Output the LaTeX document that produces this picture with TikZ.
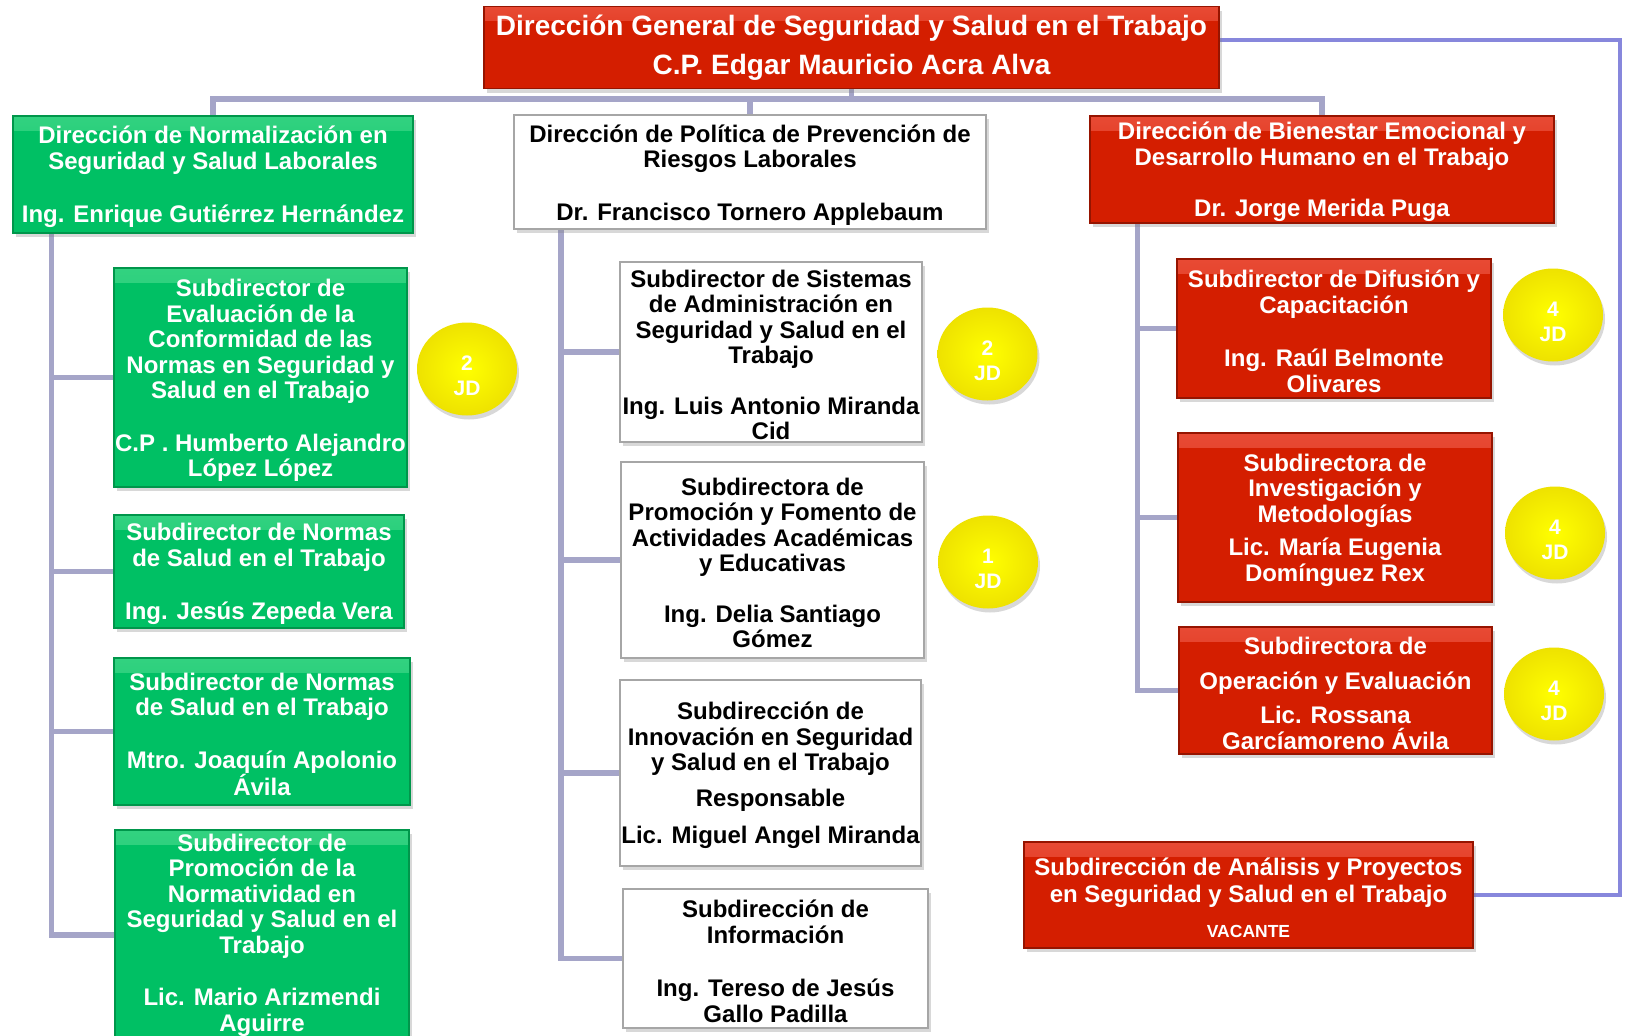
\documentclass[tikz,border=0pt]{standalone}
\usepackage{fontspec}
\setmainfont{Liberation Sans}
\usetikzlibrary{shapes.geometric,shadows,calc}
\definecolor{gfill}{RGB}{0,192,100}
\definecolor{gtop}{RGB}{50,210,128}
\definecolor{gedge}{RGB}{0,150,75}
\definecolor{rfill}{RGB}{212,30,0}
\definecolor{rtop}{RGB}{232,74,52}
\definecolor{redge}{RGB}{150,20,0}
\definecolor{conn}{RGB}{165,165,200}
\definecolor{conntwo}{RGB}{135,135,220}
\definecolor{ylw}{RGB}{255,255,0}
\definecolor{ylwedge}{RGB}{238,226,0}
\newcommand\orgbody{\fontsize{24}{25.5}\selectfont\bfseries}
\newcommand\orgtitle{\fontsize{28}{39}\selectfont\bfseries}
\newcommand\orgbadge{\fontsize{21}{25}\selectfont\bfseries}
\pgfdeclarelayer{back}
\pgfdeclarelayer{bg}
\pgfsetlayers{back,bg,main}
\begin{document}
\begin{tikzpicture}[x=1pt,y=-1pt,
  box/.style={rectangle, inner sep=0pt, align=center, font=\orgbody,
    drop shadow={shadow xshift=3pt, shadow yshift=-4pt, opacity=0.3}},
  gbox/.style={box, draw=gedge, line width=1.5pt, fill=gfill, text=white,
    path picture={\shade[top color=gtop, bottom color=gfill] (path picture bounding box.north west) rectangle ([yshift=-14pt]path picture bounding box.north east);}},
  rbox/.style={box, draw=redge, line width=1.5pt, fill=rfill, text=white,
    path picture={\shade[top color=rtop, bottom color=rfill] (path picture bounding box.north west) rectangle ([yshift=-14pt]path picture bounding box.north east);}},
  wbox/.style={box, draw=black!35, line width=2pt, fill=white, text=black},
  badge/.style={ellipse, minimum width=100pt, minimum height=93pt, inner sep=0pt,
    inner color=ylw, outer color=ylwedge,
    drop shadow={shadow xshift=2pt, shadow yshift=-4pt, opacity=0.3}},
  badgetext/.style={align=center, text=white, font=\orgbadge, inner sep=0pt},
  tree/.style={draw=conn, line width=5.5pt, line cap=rect},
  link/.style={draw=conntwo, line width=4.5pt, line cap=rect},
]
\useasboundingbox (0,0) rectangle (1628,1036);
\begin{pgfonlayer}{back}
\fill[white] (0,0) rectangle (1628,1036);
\end{pgfonlayer}

% top
\node[rbox, minimum width=735pt, minimum height=82pt, font=\orgtitle] (top) at (851.5,47.5)
  {Dirección General de Seguridad y Salud en el Trabajo\\C.P. Edgar Mauricio Acra Alva};

% directors
\node[gbox, minimum width=400pt, minimum height=117pt] (dl) at (213,174.5)
  {\rule{0pt}{23pt}Dirección de Normalización en\\Seguridad y Salud Laborales\\[28pt]Ing. Enrique Gutiérrez Hernández};
\node[wbox, minimum width=472pt, minimum height=114pt] (dm) at (750,172)
  {\rule{0pt}{23pt}Dirección de Política de Prevención de\\Riesgos Laborales\\[27pt]Dr. Francisco Tornero Applebaum};
\node[rbox, minimum width=464pt, minimum height=107pt] (dr) at (1322,169.5)
  {\rule{0pt}{23pt}Dirección de Bienestar Emocional y\\Desarrollo Humano en el Trabajo\\[26pt]Dr. Jorge Merida Puga};

% left column
\node[gbox, minimum width=293pt, minimum height=219pt] (l1) at (260.5,377.5)
  {\rule{0pt}{23pt}Subdirector de\\Evaluación de la\\Conformidad de las\\Normas en Seguridad y\\Salud en el Trabajo\\[27pt]C.P . Humberto Alejandro\\López López};
\node[gbox, minimum width=290pt, minimum height=113pt] (l2) at (259,571.5)
  {\rule{0pt}{23pt}Subdirector de Normas\\de Salud en el Trabajo\\[28pt]Ing. Jesús Zepeda Vera};
\node[gbox, minimum width=296pt, minimum height=147pt] (l3) at (262,731.5)
  {\rule{0pt}{23pt}Subdirector de Normas\\de Salud en el Trabajo\\[27pt]Mtro. Joaquín Apolonio\\Ávila};
\node[gbox, minimum width=294pt, minimum height=210pt] (l4) at (262,935)
  {Subdirector de\\Promoción de la\\Normatividad en\\Seguridad y Salud en el\\Trabajo\\[27pt]Lic. Mario Arizmendi\\Aguirre};

% middle column
\node[wbox, minimum width=302pt, minimum height=180pt] (m1) at (771,352)
  {\rule{0pt}{23pt}Subdirector de Sistemas\\de Administración en\\Seguridad y Salud en el\\Trabajo\\[25pt]Ing. Luis Antonio Miranda\\Cid};
\node[wbox, minimum width=303pt, minimum height=196pt] (m2) at (772.5,560)
  {\rule{0pt}{23pt}Subdirectora de\\Promoción y Fomento de\\Actividades Académicas\\y Educativas\\[25pt]Ing. Delia Santiago\\Gómez};
\node[wbox, minimum width=301pt, minimum height=186pt] (m3) at (770.5,773)
  {\rule{0pt}{23pt}Subdirección de\\Innovación en Seguridad\\y Salud en el Trabajo\\[10pt]Responsable\\[12pt]Lic. Miguel Angel Miranda};
\node[wbox, minimum width=305pt, minimum height=139pt] (m4) at (775.5,958.5)
  {\rule{0pt}{23pt}Subdirección de\\Información\\[28pt]Ing. Tereso de Jesús\\Gallo Padilla};

% right column
\node[rbox, minimum width=314pt, minimum height=139pt] (r1) at (1334,328.5)
  {\rule{0pt}{23pt}Subdirector de Difusión y\\Capacitación\\[28pt]Ing. Raúl Belmonte\\Olivares};
\node[rbox, minimum width=314pt, minimum height=169pt] (r2) at (1335,517.5)
  {\rule{0pt}{23pt}Subdirectora de\\Investigación y\\Metodologías\\[8pt]Lic. María Eugenia\\Domínguez Rex};
\node[rbox, minimum width=313pt, minimum height=127pt] (r3) at (1335.5,690.5)
  {\rule{0pt}{23pt}Subdirectora de\\[9pt]Operación y Evaluación\\[9pt]Lic. Rossana\\Garcíamoreno Ávila};
\node[rbox, minimum width=449pt, minimum height=106pt, font=\fontsize{24}{27}\selectfont\bfseries] (an) at (1248.5,895)
  {\rule{0pt}{23pt}Subdirección de Análisis y Proyectos\\en Seguridad y Salud en el Trabajo\\[8pt]{\fontsize{17.5}{20}\selectfont VACANTE}};

% badges
\node[badge] (b1) at (467,369) {};
\node[badge] (b2) at (987.5,354) {};
\node[badge] (b3) at (988,562) {};
\node[badge] (b4) at (1553,315) {};
\node[badge] (b5) at (1555,533) {};
\node[badge] (b6) at (1554,694) {};
\node[badgetext] (b1t) at ($(b1)+(0,7)$) {2\\JD};
\node[badgetext] (b2t) at ($(b2)+(0,7)$) {2\\JD};
\node[badgetext] (b3t) at ($(b3)+(0,7)$) {1\\JD};
\node[badgetext] (b4t) at ($(b4)+(0,7)$) {4\\JD};
\node[badgetext] (b5t) at ($(b5)+(0,7)$) {4\\JD};
\node[badgetext] (b6t) at ($(b6)+(0,7)$) {4\\JD};

% connectors
\begin{pgfonlayer}{bg}
\coordinate (hub) at ($(top.south)+(0,9.5)$);
\draw[tree] (top.south) -- (hub);
\draw[tree] (dl.north) |- (hub) -| (dr.north);
\draw[tree] (dm.north) -- (dm.north |- hub);

\coordinate (lt) at ($(dl.south west)+(39,0)$);
\draw[tree] (lt) |- (l4.west);
\foreach \n in {l1,l2,l3} \draw[tree] (lt |- \n.west) -- (\n.west);

\coordinate (mt) at ($(dm.south west)+(48,0)$);
\draw[tree] (mt) |- (m4.west);
\foreach \n in {m1,m2,m3} \draw[tree] (mt |- \n.west) -- (\n.west);

\coordinate (rt) at ($(dr.south west)+(48,0)$);
\draw[tree] (rt) |- (r3.west);
\foreach \n in {r1,r2} \draw[tree] (rt |- \n.west) -- (\n.west);

\coordinate (rc) at (1620,40);
\draw[link] (top.east |- rc) -- (rc) |- (an.east);
\end{pgfonlayer}
\end{tikzpicture}
\end{document}
